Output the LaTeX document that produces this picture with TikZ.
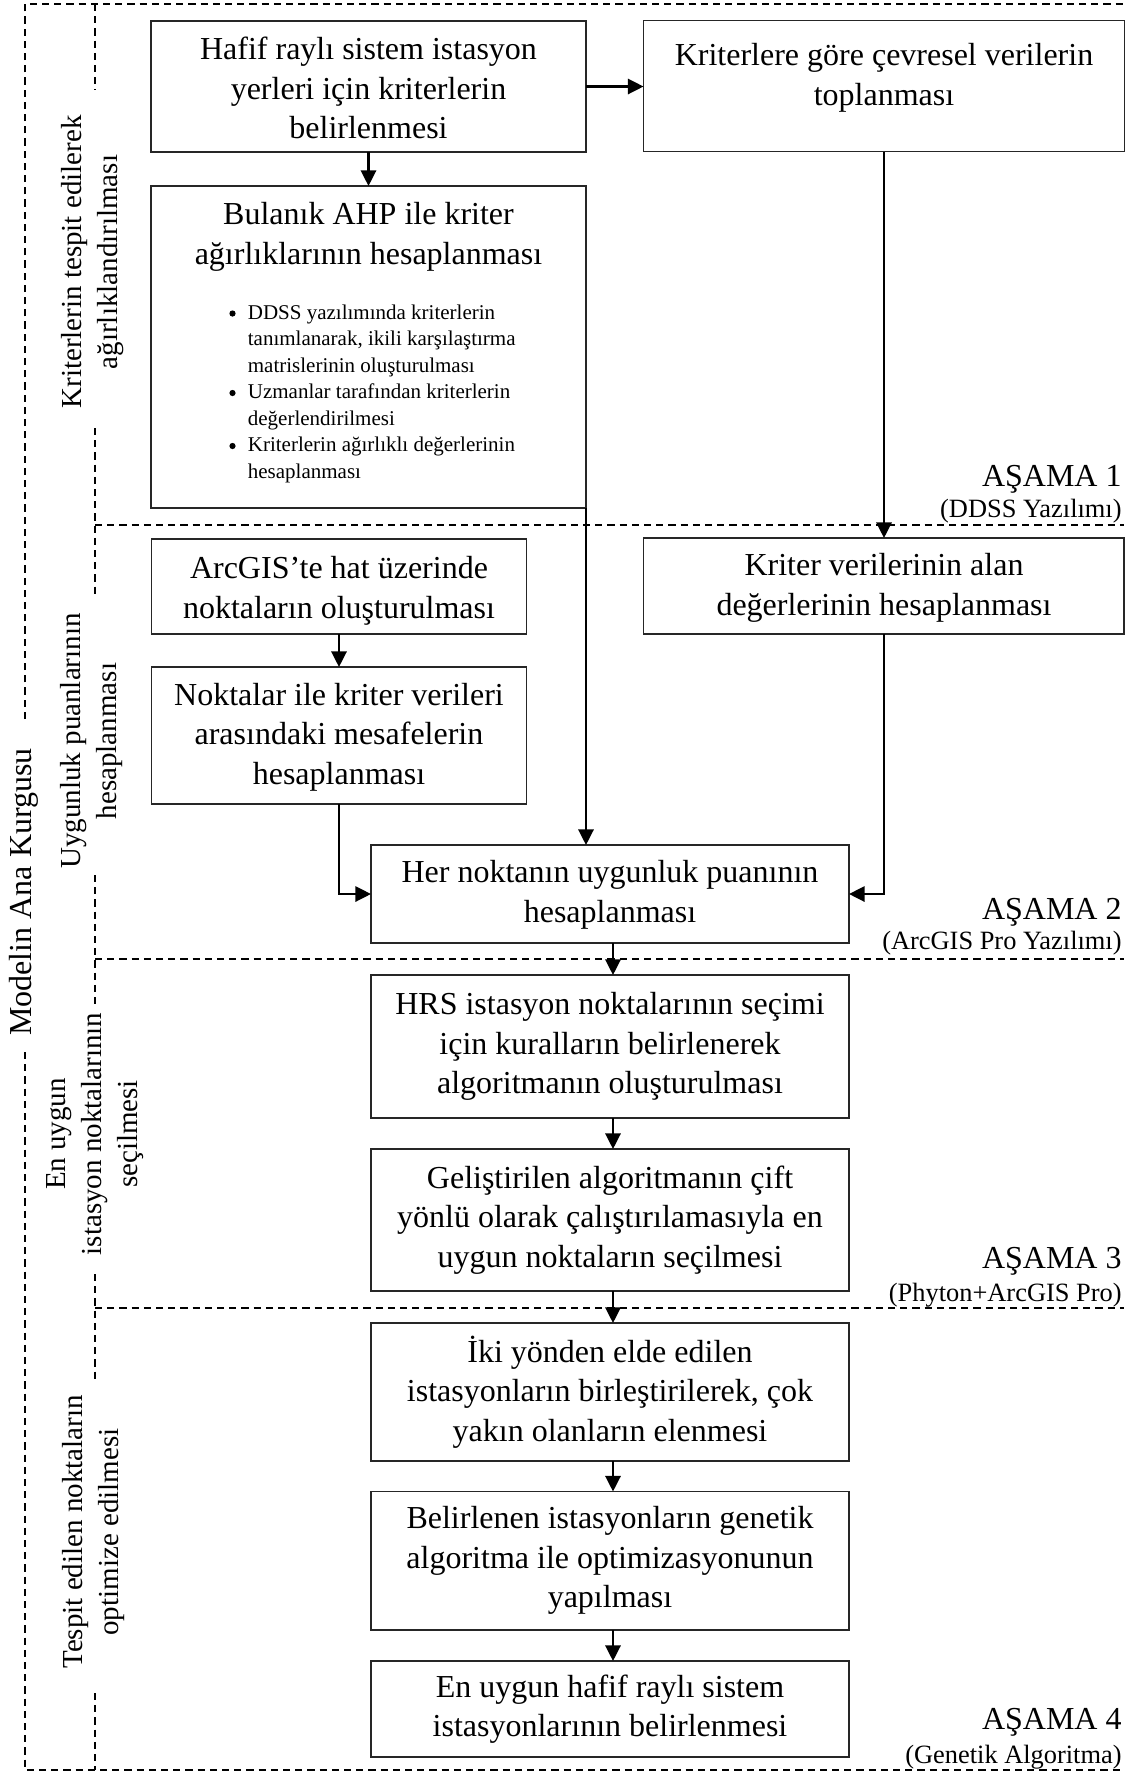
\documentclass[tikz,border=0pt]{standalone}
\usepackage{fontspec}
\setmainfont{Liberation Serif}
\usetikzlibrary{arrows.meta}
\begin{document}
\begin{tikzpicture}[x=0.5pt,y=-0.5pt,
  box/.style={draw=black!85,line width=0.65pt,inner sep=0pt,outer sep=0pt,fill=none},
  txt/.style={align=center,inner sep=0pt,font=\fontsize{16}{19.75}\selectfont},
  bul/.style={align=left,inner sep=0pt,font=\fontsize{10.5}{13.25}\selectfont},
  bulmark/.style={circle,fill=black,inner sep=0pt,minimum size=3.1pt},
  arr/.style={line width=1.2pt,-{Triangle[length=7.8pt,width=7.6pt]}},
  sepline/.style={line width=0.8pt,dash pattern=on 3.6pt off 2.5pt},
  side/.style={rotate=90,align=center,inner sep=0pt,font=\fontsize{14.5}{18}\selectfont},
  stage/.style={anchor=base east,inner sep=0pt,font=\fontsize{16}{19}\selectfont},
  stagesub/.style={anchor=base east,inner sep=0pt,font=\fontsize{13.2}{16}\selectfont}]
\useasboundingbox (0,0) rectangle (1134,1773);

% ---------- dashed frames ----------
\draw[sepline] (25,719) -- (25,4) -- (1124,4);
\draw[sepline] (25,1052) -- (25,1770) -- (1124,1770);
\draw[sepline] (95,4) -- (95,90);
\draw[sepline] (95,428) -- (95,598);
\draw[sepline] (95,875) -- (95,1005);
\draw[sepline] (95,1274) -- (95,1382);
\draw[sepline] (95,1693) -- (95,1770);
\draw[sepline] (95,525) -- (1124,525);
\draw[sepline] (95,959) -- (1124,959);
\draw[sepline] (95,1308) -- (1124,1308);

% ---------- side labels ----------
\node[side,font=\fontsize{16}{19}\selectfont] (lmain) at (24,892) {Modelin Ana Kurgusu};
\node[side] (l1) at (93,262) {Kriterlerin tespit edilerek\\ağırlıklandırılması};
\node[side] (l2) at (92,741) {Uygunluk puanlarının\\hesaplanması};
\node[side] (l3) at (95,1134) {En uygun\\istasyon noktalarının\\seçilmesi};
\node[side] (l4) at (93.5,1532) {Tespit edilen noktaların\\optimize edilmesi};

% ---------- boxes ----------
\node[box,minimum width=217.5pt,minimum height=65.5pt] (b1) at (368.5,86.5) {};
\node[box,minimum width=240.5pt,minimum height=65.5pt] (b2) at (884,86) {};
\node[box,minimum width=217.5pt,minimum height=161pt] (b3) at (368.5,347) {};
\node[box,minimum width=187.5pt,minimum height=47.5pt] (b4) at (339,586.5) {};
\node[box,minimum width=187.5pt,minimum height=68.5pt] (b5) at (339,735.5) {};
\node[box,minimum width=240.25pt,minimum height=48pt] (b6) at (883.75,586) {};
\node[box,minimum width=239pt,minimum height=49pt] (b7) at (610,894) {};
\node[box,minimum width=239pt,minimum height=71.5pt] (b8) at (610,1046.5) {};
\node[box,minimum width=239pt,minimum height=71pt] (b9) at (610,1220) {};
\node[box,minimum width=239pt,minimum height=69pt] (b10) at (610,1392) {};
\node[box,minimum width=239pt,minimum height=69.25pt] (b11) at (610,1560.75) {};
\node[box,minimum width=239pt,minimum height=48pt] (b12) at (610,1709) {};

% ---------- box texts ----------
\node[txt] (t1) at (368.5,88) {Hafif raylı sistem istasyon\\yerleri için kriterlerin\\belirlenmesi};
\node[txt] (t2) at (884,78) {Kriterlere göre çevresel verilerin\\toplanması};
\node[txt] (t3) at (368.5,237) {Bulanık AHP ile kriter\\ağırlıklarının hesaplanması};
\node[bul,anchor=north west] (t3b) at (247.5,304.5) {DDSS yazılımında kriterlerin\\tanımlanarak, ikili karşılaştırma\\matrislerinin oluşturulması\\Uzmanlar tarafından kriterlerin\\değerlendirilmesi\\Kriterlerin ağırlıklı değerlerinin\\hesaplanması};
\node[bulmark] (m1) at (232.5,313.5) {};
\node[bulmark] (m2) at (232.5,393) {};
\node[bulmark] (m3) at (232.5,446) {};
\node[txt] (t4) at (339,591) {ArcGIS’te hat üzerinde\\noktaların oluşturulması};
\node[txt] (t5) at (339,737) {Noktalar ile kriter verileri\\arasındaki mesafelerin\\hesaplanması};
\node[txt] (t6) at (884,588) {Kriter verilerinin alan\\değerlerinin hesaplanması};
\node[txt] (t7) at (610,895) {Her noktanın uygunluk puanının\\hesaplanması};
\node[txt] (t8) at (610,1046.5) {HRS istasyon noktalarının seçimi\\için kuralların belirlenerek\\algoritmanın oluşturulması};
\node[txt] (t9) at (610,1220) {Geliştirilen algoritmanın çift\\yönlü olarak çalıştırılamasıyla en\\uygun noktaların seçilmesi};
\node[txt] (t10) at (610,1392) {İki yönden elde edilen\\istasyonların birleştirilerek, çok\\yakın olanların elenmesi};
\node[txt] (t11) at (610,1560.75) {Belirlenen istasyonların genetik\\algoritma ile optimizasyonunun\\yapılması};
\node[txt] (t12) at (610,1709) {En uygun hafif raylı sistem\\istasyonlarının belirlenmesi};

% ---------- stage labels ----------
\node[stage] (s1) at (1122,486) {AŞAMA 1};
\node[stagesub] (s1b) at (1122,517) {(DDSS Yazılımı)};
\node[stage] (s2) at (1122,919) {AŞAMA 2};
\node[stagesub] (s2b) at (1122,949) {(ArcGIS Pro Yazılımı)};
\node[stage] (s3) at (1122,1268) {AŞAMA 3};
\node[stagesub] (s3b) at (1122,1301) {(Phyton+ArcGIS Pro)};
\node[stage] (s4) at (1122,1729) {AŞAMA 4};
\node[stagesub] (s4b) at (1122,1763) {(Genetik Algoritma)};

% ---------- connectors ----------
\draw[arr] (b1.south) -- (b3.north);
\draw[arr] (b1.east) -- (b1.east -| b2.west);
\draw[arr] (b2.south) -- (b2.south |- b6.north);
\draw[arr] (b4.south) -- (b5.north);
\draw[arr] (b5.south) |- (b7.west);
\draw[arr] (b3.south east) -- (b3.south east |- b7.north);
\draw[arr] (b6.south) |- (b7.east);
\draw[arr] ([xshift=1.5pt]b7.south) -- ([xshift=1.5pt]b8.north);
\draw[arr] ([xshift=1.5pt]b8.south) -- ([xshift=1.5pt]b9.north);
\draw[arr] ([xshift=1.5pt]b9.south) -- ([xshift=1.5pt]b10.north);
\draw[arr] ([xshift=1.5pt]b10.south) -- ([xshift=1.5pt]b11.north);
\draw[arr] ([xshift=1.5pt]b11.south) -- ([xshift=1.5pt]b12.north);
\end{tikzpicture}
\end{document}
